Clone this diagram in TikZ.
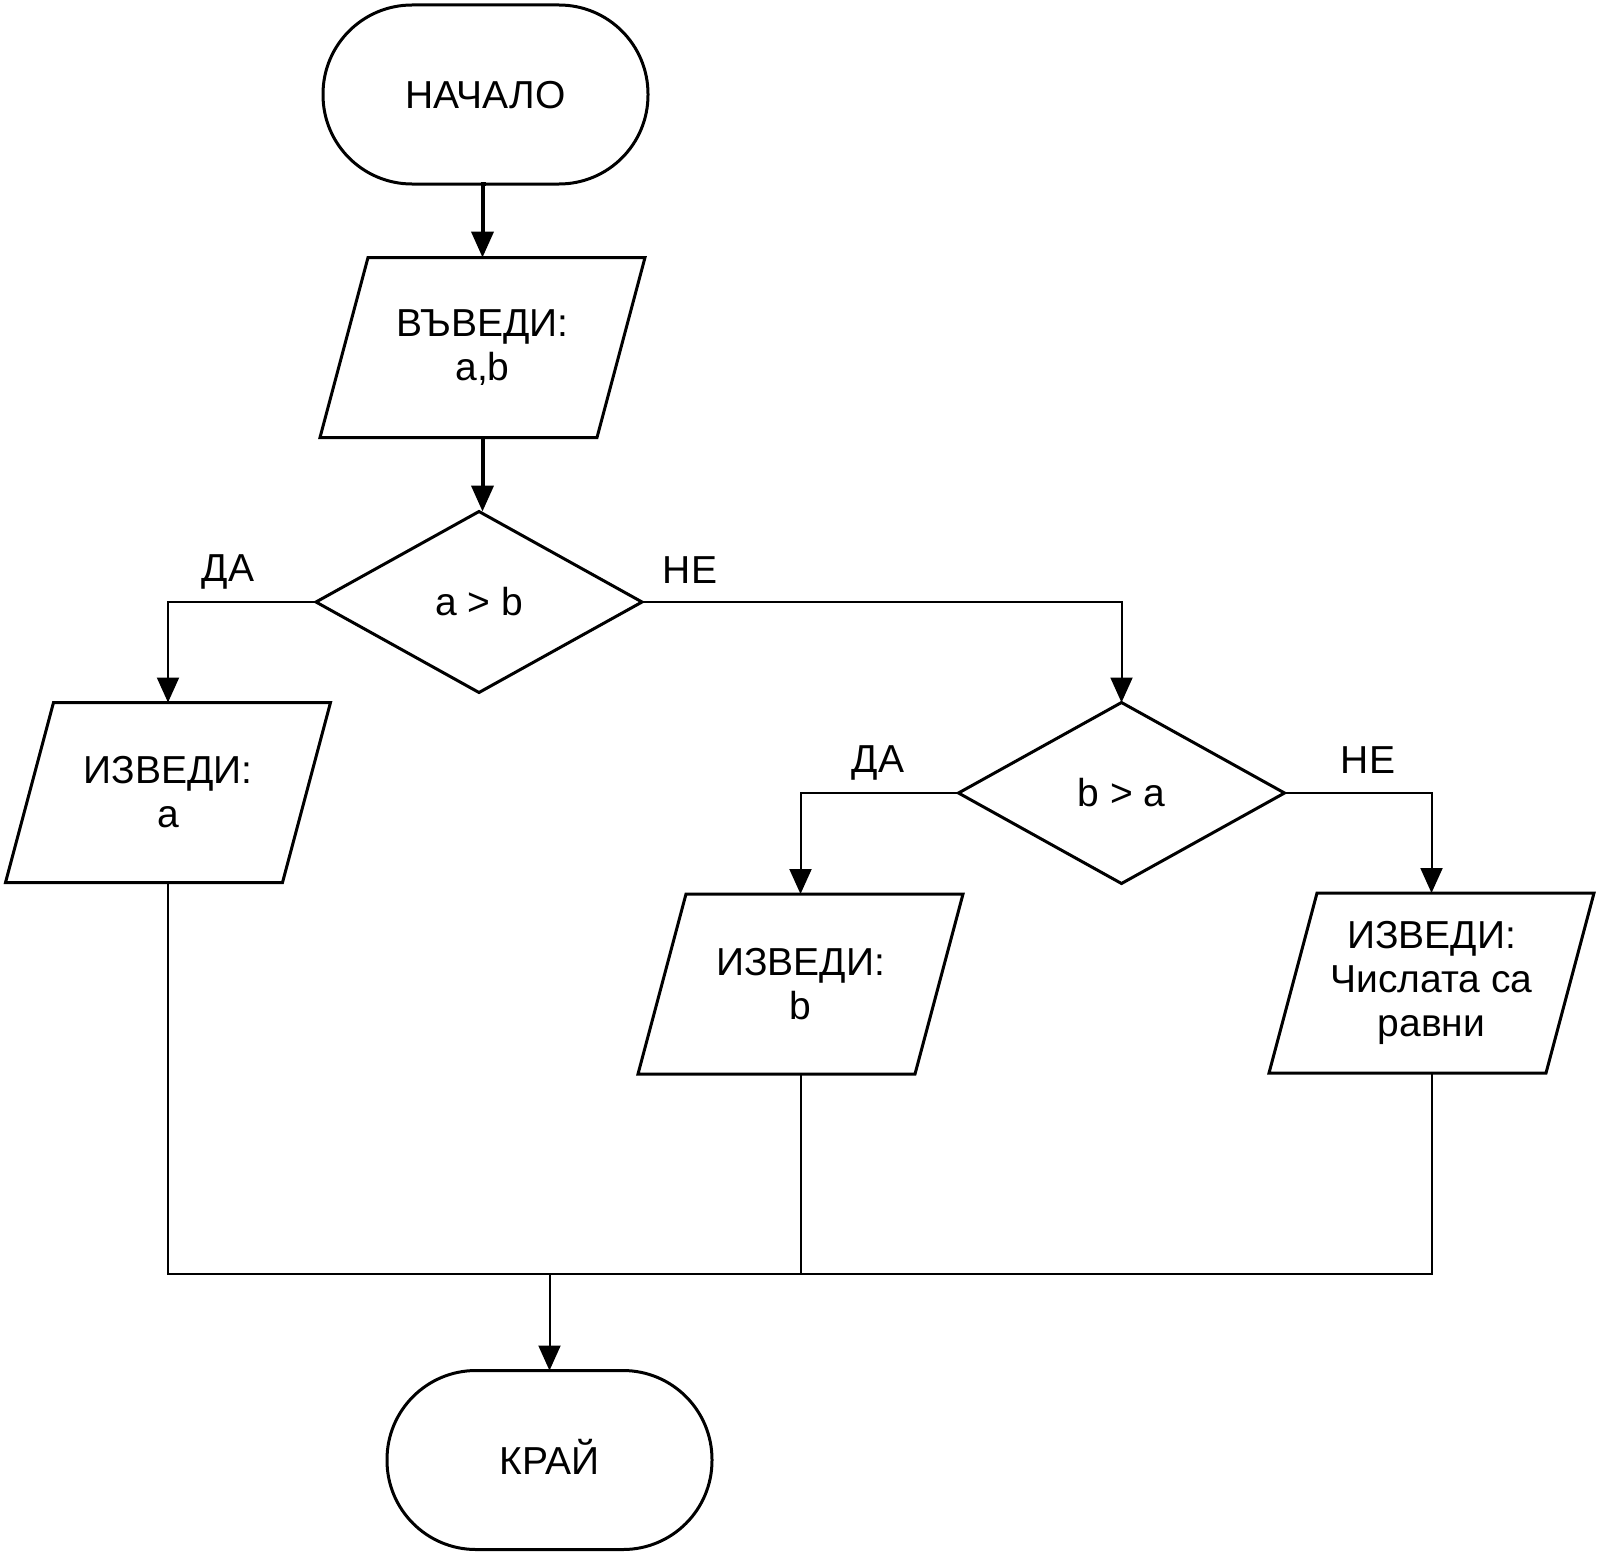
\documentclass[tikz,border=0pt]{standalone}
\usepackage{fontspec}
\setmainfont{Liberation Sans}
\usetikzlibrary{shapes.geometric,arrows.meta}
\newcommand{\paradraw}[1]{\draw[line width=3pt, line join=miter] ([xshift=48pt]#1.north west) -- (#1.north east) -- ([xshift=-48pt]#1.south east) -- (#1.south west) -- cycle;}
\begin{document}
\begin{tikzpicture}[x=1pt,y=-1pt,
  every node/.style={font=\fontsize{39pt}{44pt}\selectfont, inner sep=0pt, outer sep=0pt, align=center},
  term/.style={draw, line width=3pt, rectangle, rounded corners=89pt, minimum width=325pt, minimum height=179pt},
  io/.style={rectangle, minimum width=325pt, minimum height=180pt},
  dec/.style={draw, line width=3pt, diamond, minimum width=326pt, minimum height=181pt},
  conn/.style={line width=2pt},
  arr/.style={line width=2pt, -{Triangle[width=22pt,length=25pt]}},
  tarr/.style={line width=4pt, -{Triangle[width=22pt,length=26pt]}},
  lbl/.style={}
]
\useasboundingbox (0,0) rectangle (1600,1555);
\node[term, text height=28pt, text depth=0pt] (start) at (485.5,94.5) {НАЧАЛО};
\node[io] (in) at (482.5,347.5) {ВЪВЕДИ:\\a,b};
\node[dec] (d1) at (479,602) {a > b};
\node[io] (oa) at (168,792.5) {ИЗВЕДИ:\\a};
\node[dec] (d2) at (1121.5,793) {b > a};
\node[io] (ob) at (800.5,984) {ИЗВЕДИ:\\b};
\node[io] (oc) at (1431.5,983) {ИЗВЕДИ:\\Числата са\\равни};
\node[term, text height=28pt, text depth=0pt] (end) at (549.5,1460) {КРАЙ};
\paradraw{in}
\paradraw{oa}
\paradraw{ob}
\paradraw{oc}
\node[lbl] (da1) at (228,572) {ДА};
\node[lbl] (ne1) at (690,570) {НЕ};
\node[lbl] (da2) at (878,763) {ДА};
\node[lbl] (ne2) at (1368,760) {НЕ};
\coordinate (j) at (549.5,1274);
\draw[tarr] (start.south) -- (in.south |- start.south) -- (in.north);
\draw[tarr] (in.south) -- (in.south |- d1.north);
\draw[arr] (d1.west) -| (oa.north);
\draw[arr] (d1.east) -| (d2.north);
\draw[arr] (d2.west) -| (ob.north);
\draw[arr] (d2.east) -| (oc.north);
\draw[conn] (oa.south) |- (oc.south |- j) -- (oc.south);
\draw[conn] (ob.south) -- (ob.south |- j);
\draw[arr] (j) -- (end.north);
\end{tikzpicture}
\end{document}
